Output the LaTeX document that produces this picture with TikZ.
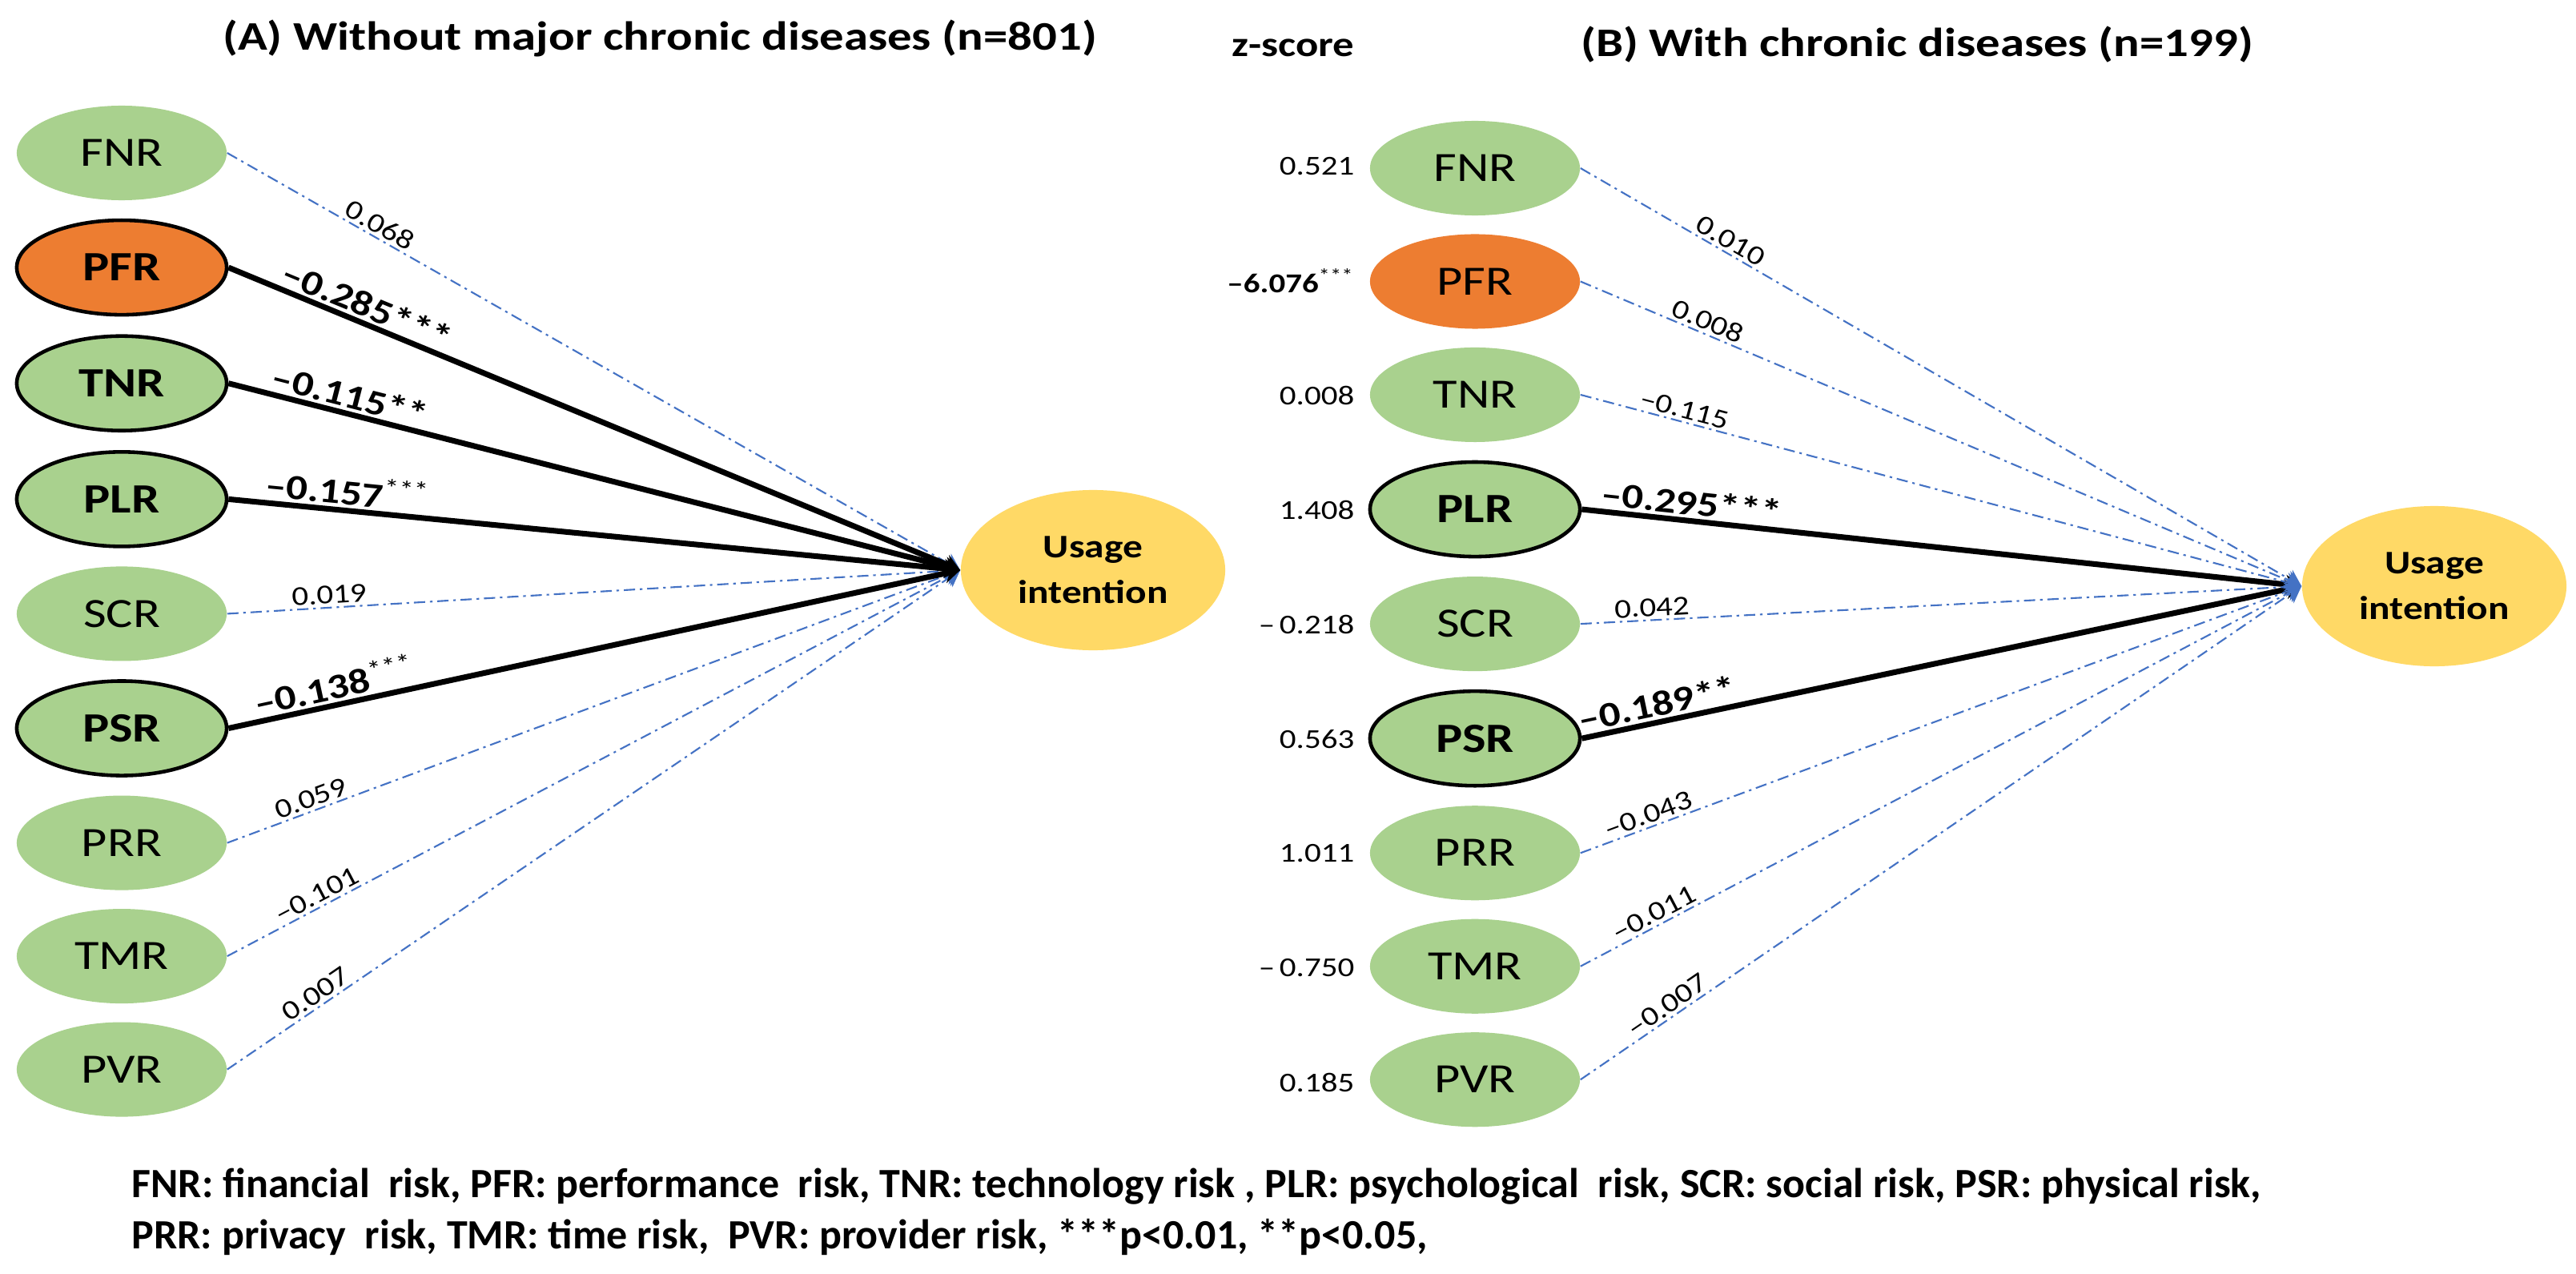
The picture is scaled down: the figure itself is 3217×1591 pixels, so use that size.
\documentclass[tikz,border=0pt]{standalone}
\usepackage{fontspec}
\setmainfont[FakeStretch=1.2]{Carlito}
\newfontfamily\keyfont{Carlito}
\usetikzlibrary{shapes.geometric, arrows.meta, positioning}
\definecolor{riskgreen}{HTML}{A9D18E}
\definecolor{perforange}{HTML}{ED7D31}
\definecolor{intentgold}{HTML}{FFD966}
\definecolor{pathblue}{HTML}{4472C4}
\tikzset{
  risk/.style={
    ellipse, fill=riskgreen, minimum width=2.62cm, minimum height=1.18cm,
    inner sep=0pt, font=\fontsize{14.8}{16}\selectfont
  },
  keyrisk/.style={
    risk, draw=black, line width=1.3pt, font=\fontsize{14.8}{16}\selectfont\bfseries
  },
  intent/.style={
    ellipse, fill=intentgold, minimum width=3.3cm, minimum height=2cm,
    inner sep=0pt, align=center, font=\fontsize{11.7}{16.2}\selectfont\bfseries
  },
  nslink/.style={
    draw=pathblue, line width=0.6pt, dash pattern=on 4pt off 1.7pt on 0.9pt off 1.7pt,
    -{Stealth[length=0.2cm, width=0.24cm]}
  },
  siglink/.style={
    draw=black, line width=2pt, -{Stealth[length=0.2cm, width=0.24cm]}
  },
  coef/.style={sloped, above, inner sep=1pt, font=\fontsize{9.7}{11}\selectfont},
  sigcoef/.style={coef, font=\fontsize{12.5}{14}\selectfont\bfseries},
  zval/.style={anchor=east, inner sep=0pt, font=\fontsize{9.7}{11}\selectfont}
}
\newcommand{\smallstars}[1]{\textsuperscript{\mdseries #1}}

\begin{document}
\begin{tikzpicture}[x=0.01cm, y=-0.01cm, node distance=0.22cm]
\useasboundingbox (0,0) rectangle (3217,1591);

% (A) without chronic diseases
\node[font=\fontsize{14.4}{16}\selectfont\bfseries] (title_a) at (824,48) {(A) Without major chronic diseases (n=801)};

\node[risk] (a_fnr) at (152,191) {FNR};
\node[keyrisk, fill=perforange, below=of a_fnr] (a_pfr) {PFR};
\node[keyrisk, below=of a_pfr] (a_tnr) {TNR};
\node[keyrisk, below=of a_tnr] (a_plr) {PLR};
\node[risk, below=of a_plr] (a_scr) {SCR};
\node[keyrisk, below=of a_scr] (a_psr) {PSR};
\node[risk, below=of a_psr] (a_prr) {PRR};
\node[risk, below=of a_prr] (a_tmr) {TMR};
\node[risk, below=of a_tmr] (a_pvr) {PVR};

\node[intent] (a_use) at (1365,712) {Usage\\intention};

\draw[nslink] (a_fnr.east) -- node[coef, pos=0.2] {0.068} (a_use.west);
\draw[nslink] (a_scr.east) -- node[coef, pos=0.14] {0.019} (a_use.west);
\draw[nslink] (a_prr.east) -- node[coef, pos=0.12] {0.059} (a_use.west);
\draw[nslink] (a_tmr.east) -- node[coef, pos=0.13] {\textendash0.101} (a_use.west);
\draw[nslink] (a_pvr.east) -- node[coef, pos=0.13] {0.007} (a_use.west);
\draw[siglink] (a_pfr.east) -- node[sigcoef, pos=0.18] {\textendash0.285***} (a_use.west);
\draw[siglink] (a_tnr.east) -- node[sigcoef, pos=0.16] {\textendash0.115**} (a_use.west);
\draw[siglink] (a_plr.east) -- node[sigcoef, pos=0.16] {\textendash0.157\smallstars{***}} (a_use.west);
\draw[siglink] (a_psr.east) -- node[sigcoef, pos=0.15] {\textendash0.138\smallstars{***}} (a_use.west);

% (B) with chronic diseases
\node[font=\fontsize{14.4}{16}\selectfont\bfseries] (title_b) at (2394,56) {(B) With chronic diseases (n=199)};
\node[font=\fontsize{12.5}{14}\selectfont\bfseries, anchor=east, inner sep=0pt] (z_head) at (1692,60) {z-score};

\node[risk] (b_fnr) at (1842,210) {FNR};
\node[risk, fill=perforange, below=of b_fnr] (b_pfr) {PFR};
\node[risk, below=of b_pfr] (b_tnr) {TNR};
\node[keyrisk, below=of b_tnr] (b_plr) {PLR};
\node[risk, below=of b_plr] (b_scr) {SCR};
\node[keyrisk, below=of b_scr] (b_psr) {PSR};
\node[risk, below=of b_psr] (b_prr) {PRR};
\node[risk, below=of b_prr] (b_tmr) {TMR};
\node[risk, below=of b_tmr] (b_pvr) {PVR};

\node[intent] (b_use) at (3040,732) {Usage\\intention};

\node[zval] (z_fnr) at (1692,208) {0.521};
\node[zval, font=\fontsize{9.7}{11}\selectfont\bfseries] (z_pfr) at (1692,351) {\textendash6.076\smallstars{***}};
\node[zval] (z_tnr) at (1692,494) {0.008};
\node[zval] (z_plr) at (1692,637) {1.408};
\node[zval] (z_scr) at (1692,780) {\textendash\,0.218};
\node[zval] (z_psr) at (1692,923) {0.563};
\node[zval] (z_prr) at (1692,1066) {1.011};
\node[zval] (z_tmr) at (1692,1209) {\textendash\,0.750};
\node[zval] (z_pvr) at (1692,1352) {0.185};

\draw[siglink] (b_plr.east) -- node[sigcoef, pos=0.15] {\textendash0.295***} (b_use.west);
\draw[siglink] (b_psr.east) -- node[sigcoef, pos=0.11] {\textendash0.189**} (b_use.west);
\draw[nslink] (b_fnr.east) -- node[coef, pos=0.2] {0.010} (b_use.west);
\draw[nslink] (b_pfr.east) -- node[coef, pos=0.17] {0.008} (b_use.west);
\draw[nslink] (b_tnr.east) -- node[coef, pos=0.14] {\textendash0.115} (b_use.west);
\draw[nslink] (b_scr.east) -- node[coef, pos=0.1] {0.042} (b_use.west);
\draw[nslink] (b_prr.east) -- node[coef, pos=0.1] {\textendash0.043} (b_use.west);
\draw[nslink] (b_tmr.east) -- node[coef, pos=0.11] {\textendash0.011} (b_use.west);
\draw[nslink] (b_pvr.east) -- node[coef, pos=0.13] {\textendash0.007} (b_use.west);

% key
\node[anchor=west, align=left, inner sep=0pt, font=\keyfont\fontsize{14.8}{18.2}\selectfont\bfseries] (key) at (164,1513)
  {FNR: financial\ \ risk, PFR: performance\ \ risk, TNR: technology risk , PLR: psychological\ \ risk, SCR: social risk, PSR: physical risk,\\
   PRR: privacy\ \ risk, TMR: time risk,\ \ PVR: provider risk, ***p<0.01, **p<0.05,};

\end{tikzpicture}
\end{document}
